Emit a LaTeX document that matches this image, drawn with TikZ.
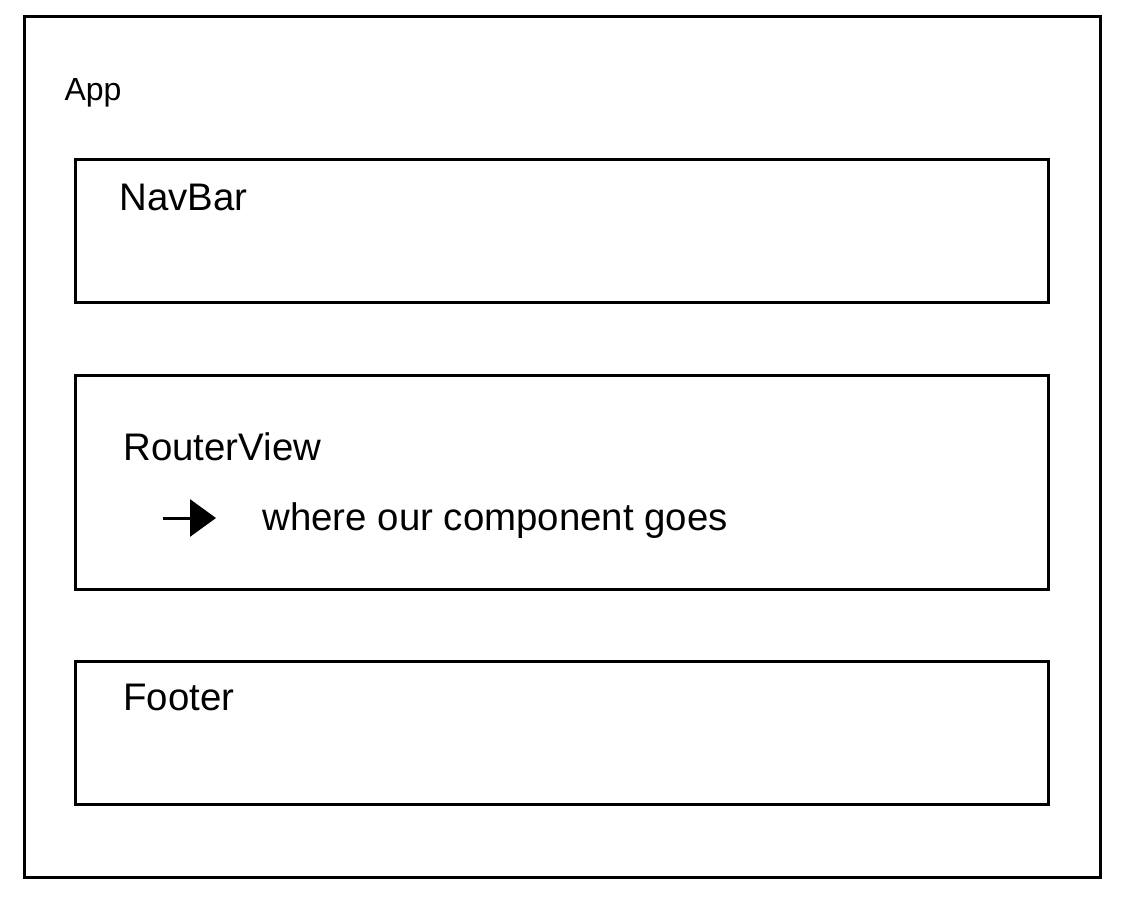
\documentclass[tikz,border=0pt]{standalone}
\usepackage{fontspec}
\setmainfont{Liberation Sans}
\usepackage{tikz}
\usetikzlibrary{arrows.meta}

\begin{document}
\begin{tikzpicture}[x=0.5pt,y=-0.5pt,>={Triangle[length=13pt,width=18.5pt]},
    line width=1.5pt,
    main box/.style={rectangle,draw,inner sep=0pt,minimum width=486.5pt},
    box label/.style={anchor=base west,inner sep=0pt,font=\fontsize{19.2}{23}\selectfont}]
    \useasboundingbox (0,0) rectangle (1130,900);

    \node[rectangle,draw,inner sep=0pt,minimum width=538pt,minimum height=430.5pt] (app) at (562,446.5) {};
    \node[main box,minimum height=71.5pt] (navbar) at (561.5,230.5) {};
    \node[main box,minimum height=107pt]  (routerview) at (561.5,482) {};
    \node[main box,minimum height=71.5pt] (footer) at (561.5,732.5) {};

    \node[box label,font=\fontsize{16}{19}\selectfont] (applabel) at (63,100) {App};
    \node[box label] (navbarlabel) at (118,210) {NavBar};
    \node[box label] (routerlabel) at (122,460) {RouterView};
    \node[box label] (goeslabel) at (261,530) {where our component goes};
    \node[box label] (footerlabel) at (122,710) {Footer};

    \coordinate (tail) at (163,518);
    \coordinate (tip) at (216,518);
    \draw[->] (tail) -- (tip);
\end{tikzpicture}
\end{document}
